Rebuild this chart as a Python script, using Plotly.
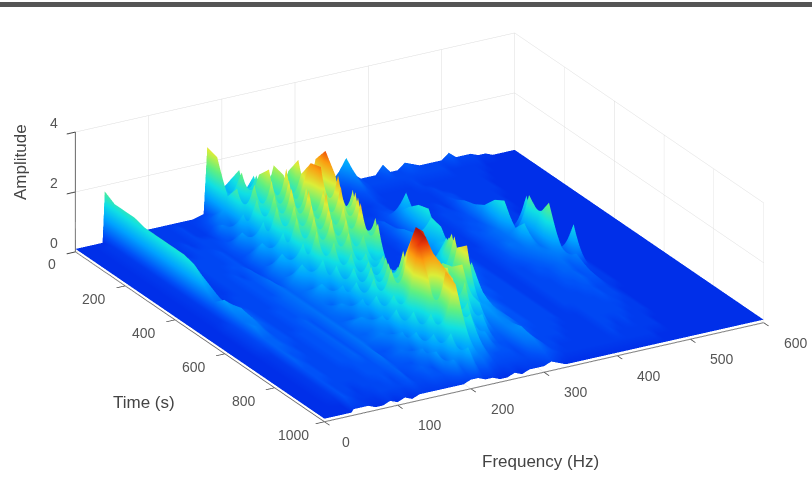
import numpy as np
import plotly.graph_objects as go

time_s = [40 * i for i in range(26)]
freq_hz = [0, 10, 20, 37, 40, 50, 60, 70, 80, 90,
           100, 110, 120, 130, 140, 150, 160, 175, 180, 190,
           200, 210, 220, 230, 240, 250, 260, 270, 280, 290,
           300, 310, 320, 330, 340, 350, 360, 370, 380, 390,
           400, 410, 420, 430, 440, 450, 460, 470, 480, 490,
           500, 510, 520, 530, 540, 550, 560, 570, 580, 590, 600]

# amplitude, in tenths; one row per time, one column per frequency
amp_tenths = [
 [1,1,1,1,18,13,4,3,2,2, 2,2,2,2,2,2,2,3,25,18, 10,12,7,7,5,5,5,5,4,4, 4,4,4,4,5,4,7,11,5,3, 3,3,6,3,3,5,4,3,3,3, 3,5,3,3,3,2,2,1,1,1,1],
 [1,1,1,2,16,12,4,3,2,2, 2,2,2,3,2,2,3,5,24,12, 10,18,7,15,6,5,9,4,3,3, 3,3,3,3,3,3,4,7,4,3, 3,3,3,3,3,3,3,3,3,3, 2,2,2,2,2,1,1,1,1,1,1],
 [1,1,1,2,16,12,3,2,2,2, 2,2,2,3,2,2,4,9,13,7, 20,9,18,7,17,6,14,5,3,2, 2,2,2,2,2,3,3,4,3,2, 2,2,2,2,3,2,2,2,2,2, 2,2,2,2,1,1,1,1,1,1,1],
 [1,1,1,2,16,11,3,2,2,2, 2,3,2,3,3,3,7,5,18,8, 10,21,8,23,9,20,7,17,4,2, 2,2,2,2,2,2,2,3,2,2, 2,2,2,2,2,3,2,2,2,2, 2,2,2,1,1,1,1,1,1,1,1],
 [1,1,1,2,15,11,3,2,2,3, 2,3,3,3,3,4,4,12,7,21, 9,25,8,22,10,26,9,13,4,2, 2,2,2,2,2,2,3,3,2,2, 2,2,2,2,2,3,3,2,2,2, 2,2,2,1,1,1,1,1,1,1,1],
 [1,1,1,2,15,11,3,2,2,3, 3,3,3,4,3,5,9,5,19,8, 24,9,27,11,24,12,28,8,4,2, 2,2,2,2,3,3,4,4,3,2, 2,2,2,3,2,4,3,2,2,2, 2,2,1,1,1,1,1,1,1,1,1],
 [1,1,1,2,15,11,3,2,2,3, 3,3,3,4,3,4,5,14,7,22, 10,26,9,24,30,14,33,10,5,2, 2,2,2,2,5,3,7,13,4,2, 2,2,3,3,3,6,4,2,2,2, 2,2,1,1,1,1,1,1,1,1,1],
 [1,1,1,2,15,10,3,2,2,3, 3,3,4,4,3,6,10,6,21,9, 26,10,25,12,31,13,27,8,4,2, 2,2,2,3,5,4,11,7,3,2, 2,2,3,3,4,7,4,2,2,2, 2,1,1,1,1,1,1,1,1,1,1],
 [1,1,1,2,15,10,3,2,2,3, 3,4,3,5,3,5,5,15,8,23, 11,27,9,26,12,30,12,24,4,2, 2,2,2,3,7,4,14,6,3,2, 2,2,3,4,4,9,5,2,2,2, 2,1,1,1,1,1,1,1,1,1,1],
 [1,1,1,2,14,10,3,2,2,3, 3,4,4,5,4,7,11,6,22,9, 25,10,28,11,29,13,26,8,4,2, 2,2,2,4,8,5,15,7,3,2, 2,2,4,4,5,13,5,3,2,2, 2,1,1,1,1,1,1,1,1,1,1],
 [1,1,1,2,9,8,3,2,3,3, 3,4,4,6,4,6,6,16,8,24, 10,26,9,25,11,27,8,12,3,2, 2,2,3,5,11,15,7,5,3,2, 2,2,4,5,6,15,5,4,15,2, 2,1,1,1,1,1,1,1,1,1,1],
 [1,1,1,2,6,6,4,3,3,3, 3,4,4,6,5,8,12,7,22,9, 25,11,24,10,28,12,22,7,3,2, 2,2,4,6,9,14,6,4,3,2, 2,3,4,5,6,8,5,18,4,2, 2,1,1,1,1,1,1,1,1,1,1],
 [1,1,1,2,9,7,5,4,3,3, 3,4,5,6,5,6,6,15,7,20, 8,22,9,20,10,23,7,6,3,2, 2,3,5,7,12,8,5,4,3,2, 2,3,4,6,6,12,6,14,16,2, 2,1,1,1,1,1,1,1,1,1,1],
 [1,1,1,3,7,8,5,4,3,3, 4,4,5,6,5,7,10,6,15,7, 18,8,17,9,14,6,9,5,3,3, 5,9,12,16,8,6,5,4,3,2, 2,3,4,5,6,7,6,20,5,3, 2,1,1,1,1,1,1,1,1,1,1],
 [1,1,1,3,6,7,5,4,3,3, 4,4,5,6,5,6,5,11,7,16, 7,17,8,18,8,13,6,5,4,5, 8,14,19,9,7,5,4,3,3,2, 2,3,3,4,5,6,7,9,4,14, 2,1,1,1,1,1,1,1,1,1,1],
 [1,1,1,3,7,6,4,4,3,3, 4,5,4,6,5,6,8,6,14,7, 18,8,20,9,16,7,8,6,7,14, 10,23,8,7,5,4,3,3,3,2, 2,3,3,4,4,5,6,5,7,3, 2,1,1,1,1,1,1,1,1,1,1],
 [1,1,1,3,5,5,4,4,3,4, 4,5,4,6,5,5,5,11,7,17, 8,21,10,24,9,15,7,10,18,8, 25,10,10,6,4,4,3,3,3,2, 2,3,3,3,4,5,5,4,5,2, 2,1,1,1,1,1,1,1,1,1,1],
 [1,1,1,2,5,5,4,3,3,4, 4,5,4,6,5,7,8,6,14,8, 22,11,26,13,29,10,16,20,9,24, 12,18,7,5,4,3,3,3,3,2, 2,3,3,3,4,4,5,4,4,2, 2,1,1,1,1,1,1,1,1,1,1],
 [1,1,1,2,5,4,4,3,3,4, 4,5,4,6,5,5,6,10,7,16, 10,30,37,35,14,22,10,21,10,27, 8,11,6,5,4,3,3,3,3,2, 2,3,3,3,3,4,4,3,3,2, 1,1,1,1,1,1,1,1,1,1,1],
 [1,1,1,2,5,4,3,3,3,4, 4,5,4,6,5,6,7,6,14,8, 20,34,36,30,12,24,9,24,14,8, 9,8,6,4,4,3,3,3,3,2, 2,3,3,3,3,3,4,3,3,2, 1,1,1,1,1,1,1,1,1,1,1],
 [1,1,1,2,4,4,3,3,3,4, 4,5,4,6,4,4,5,9,6,15, 8,25,11,28,22,9,21,8,13,6, 8,7,6,4,4,3,3,3,3,2, 2,2,3,3,3,3,3,3,2,2, 1,1,1,1,1,1,1,1,1,1,1],
 [1,1,1,2,4,4,3,3,3,3, 4,4,4,6,4,5,6,5,11,6, 16,9,29,26,10,17,7,12,5,5, 7,7,5,4,3,3,3,3,2,2, 2,2,3,3,3,3,3,2,2,2, 1,1,1,1,1,1,1,1,1,1,1],
 [1,1,1,2,4,3,3,3,3,3, 4,4,4,5,4,4,4,8,6,12, 7,20,27,10,16,6,9,5,4,4, 7,8,5,3,3,3,3,2,2,2, 2,2,3,3,2,3,2,2,2,1, 1,1,1,1,1,1,1,1,1,1,1],
 [1,1,1,2,4,3,3,2,3,3, 3,4,3,5,3,4,5,4,9,5, 14,7,15,8,9,5,4,4,4,3, 6,7,5,3,3,2,2,2,2,2, 2,2,3,2,2,2,2,2,2,1, 1,1,1,1,1,1,1,1,1,1,1],
 [1,1,1,1,4,3,2,2,2,3, 3,3,3,4,3,3,4,4,5,8, 5,11,5,6,4,3,3,3,3,3, 4,5,4,3,2,2,2,2,2,2, 2,2,2,2,2,2,2,1,1,1, 1,1,1,1,1,1,1,1,1,1,1],
 [1,1,1,1,2,2,2,1,1,2, 1,2,1,2,2,2,2,2,2,2, 3,3,2,2,1,1,2,1,2,2, 2,3,2,1,1,1,1,1,1,1, 1,1,1,1,1,1,1,1,1,1, 1,1,1,1,1,1,1,1,1,1,1],
]

time_ticks = [0, 200, 400, 600, 800, 1000]
freq_ticks = [0, 100, 200, 300, 400, 500, 600]
amp_ticks = [0, 2, 4]

amplitude = np.array(amp_tenths, dtype=float) / 10.0

jet_scale = [
    [0.00, "#0024e4"], [0.10, "#0050f8"], [0.25, "#00a4ff"], [0.38, "#10e0e4"],
    [0.52, "#60f080"], [0.66, "#dcee38"], [0.80, "#fc9c10"], [0.92, "#e83808"], [1.00, "#a81010"],
]

fig = go.Figure(go.Surface(
    x=time_s, y=freq_hz, z=amplitude.T,
    colorscale=jet_scale, cmin=0, cmax=3.7, showscale=False,
    lighting=dict(ambient=1.0, diffuse=0.12, specular=0.0, roughness=1.0),
    lightposition=dict(x=1000, y=-1000, z=2000),
    hoverinfo="skip",
))

def axis(rng, ticks):
    return dict(
        range=rng, tickvals=ticks, title=dict(text=""), showticklabels=False,
        showbackground=True, backgroundcolor="white", gridcolor="#dcdcdc", gridwidth=1,
        showline=True, linecolor="#666666", linewidth=2, zeroline=False,
        ticks="outside", ticklen=10, tickcolor="#444444", tickwidth=2,
        showspikes=False,
    )

tick_font = dict(family="Liberation Sans", size=14, color="#555555")
title_font = dict(family="Liberation Sans", size=17, color="#444444")

def tick_note(x, y, z, text, dx, dy):
    return dict(x=x, y=y, z=z, text=str(text), showarrow=False, xshift=dx, yshift=dy,
                xanchor="center", yanchor="middle", font=tick_font)

notes = [tick_note(t, 0, 0, t, -31 if t else -23, -13 if t else -12) for t in time_ticks]
notes += [tick_note(1000, f, 0, f, 32 if f else 22, -20) for f in freq_ticks]
notes += [tick_note(0, 0, a, a, -21, 9) for a in amp_ticks]

d = 1.6
el, az = np.radians(23.1), np.radians(-29.9)
cx, cy, cz = -0.0285, -0.049, -0.053
fig.update_layout(
    width=812, height=478, margin=dict(l=0, r=0, t=0, b=0),
    paper_bgcolor="white", showlegend=False,
    scene=dict(
        domain=dict(x=[0, 1], y=[0, 1]),
        xaxis=axis([0, 1000], time_ticks),
        yaxis=axis([0, 600], freq_ticks),
        zaxis=axis([0, 4], amp_ticks),
        aspectmode="manual", aspectratio=dict(x=2.09, y=2.12, z=0.545),
        camera=dict(
            projection=dict(type="orthographic"),
            up=dict(x=0, y=0, z=1),
            center=dict(x=cx, y=cy, z=cz),
            eye=dict(x=cx+d*np.cos(el)*np.cos(az), y=cy+d*np.cos(el)*np.sin(az), z=cz+d*np.sin(el)),
        ),
        annotations=notes,
    ),
    shapes=[
        dict(type="rect", xref="paper", yref="paper", x0=0, x1=1, y0=1-7/478, y1=1-2/478,
             fillcolor="#555555", line_width=0, layer="above"),
    ],
    annotations=[
        dict(text="Time (s)", x=144/812, y=1-402/478, xref="paper", yref="paper", showarrow=False,
             xanchor="center", yanchor="middle", font=title_font),
        dict(text="Frequency (Hz)", x=540/812, y=1-461/478, xref="paper", yref="paper", showarrow=False,
             xanchor="center", yanchor="middle", font=title_font),
        dict(text="Amplitude", x=21/812, y=1-162/478, xref="paper", yref="paper", showarrow=False, textangle=-90,
             xanchor="center", yanchor="middle", font=title_font),
    ],
)
fig.write_html("out.html", post_script="document.body.style.margin='0';", config=dict(displayModeBar=False))
